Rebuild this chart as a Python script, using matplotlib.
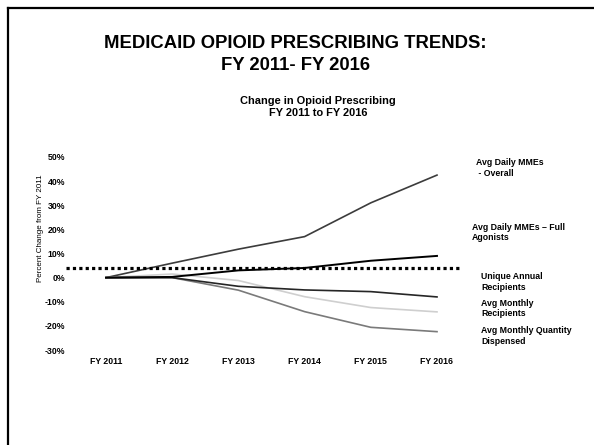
import matplotlib
matplotlib.use("Agg")
import matplotlib.pyplot as plt
from matplotlib.lines import Line2D

plt.rcParams["font.family"] = ["Liberation Sans", "DejaVu Sans"]

# =========================
# Datos
# =========================

anios = ["FY 2011", "FY 2012", "FY 2013", "FY 2014", "FY 2015", "FY 2016"]

mme_general = [0, 6.0, 11.8, 17.0, 31.0, 42.5]
mme_agonistas = [0, 0.3, 3.0, 4.0, 7.0, 9.0]
receptores_anuales = [0, 0, -3.6, -5.1, -5.8, -8.0]
receptores_mensuales = [0, 1.5, -1.2, -7.9, -12.4, -14.2]
cantidad_mensual = [0, 0, -5.2, -14.1, -20.6, -22.4]

linea_referencia = 4.0

etiquetas = [
    "Avg Daily MMEs\n - Overall",
    "Avg Daily MMEs \u2013 Full\nAgonists",
    "Unique Annual\nRecipients",
    "Avg Monthly\nRecipients",
    "Avg Monthly Quantity\nDispensed",
]

# =========================
# Figura
# =========================

W, H = 594, 445
fig = plt.figure(figsize=(W / 100, H / 100), dpi=100)
fig.patch.set_facecolor("white")

# marco de la diapositiva
fig.add_artist(Line2D([7.7 / W, 7.7 / W], [0, 1 - 7.7 / H], color="black", lw=1.6))
fig.add_artist(Line2D([7.7 / W, 1], [1 - 7.7 / H, 1 - 7.7 / H], color="black", lw=1.6))

fig.text(0.497, 1 - 43.5 / H, "MEDICAID OPIOID PRESCRIBING TRENDS:",
         ha="center", va="center", fontsize=13.3, fontweight="bold")
fig.text(0.497, 1 - 65.5 / H, "FY 2011- FY 2016",
         ha="center", va="center", fontsize=13.3, fontweight="bold")
fig.text(318 / W, 1 - 101 / H, "Change in Opioid Prescribing",
         ha="center", va="center", fontsize=7.9, fontweight="bold")
fig.text(318 / W, 1 - 112.5 / H, "FY 2011 to FY 2016",
         ha="center", va="center", fontsize=7.9, fontweight="bold")

x0 = 106
paso = 66.2
xmin, xmax = -0.55, 5.5
izq = x0 + xmin * paso
der = x0 + xmax * paso
arriba, abajo = 157, 350
ax = fig.add_axes([izq / W, (H - abajo) / H, (der - izq) / W, (abajo - arriba) / H])

x = list(range(len(anios)))
ax.plot(x, mme_general, color="#3c3c3c", lw=1.2)
ax.plot(x, receptores_mensuales, color="#cfcfcf", lw=1.2)
ax.plot(x, cantidad_mensual, color="#7a7a7a", lw=1.2)
ax.plot(x, receptores_anuales, color="#262626", lw=1.2)
ax.plot(x, mme_agonistas, color="black", lw=1.4)
ax.plot([-0.6, 5.35], [linea_referencia, linea_referencia], color="black", lw=2.3,
        dashes=(1, 1), dash_capstyle="butt", clip_on=False)

ax.set_xlim(xmin, xmax)
ax.set_ylim(-30, 50)
ax.set_yticks(range(-30, 51, 10))
ax.set_yticklabels([f"{v}%" for v in range(-30, 51, 10)], fontsize=6.3, fontweight="bold")
ax.set_xticks(x)
ax.set_xticklabels(anios, fontsize=6.3, fontweight="bold")
ax.tick_params(length=0)
ax.tick_params(axis="y", pad=3)
ax.tick_params(axis="x", pad=5)
for s in ax.spines.values():
    s.set_visible(False)

fig.text(41 / W, 1 - 228 / H, "Percent Change from FY 2011", rotation=90,
         ha="center", va="center", fontsize=5.8)

pos_etiquetas = [(476, 168), (471.5, 232.5), (481, 282), (481, 308.5), (481, 336)]
for (px, py), texto in zip(pos_etiquetas, etiquetas):
    fig.text(px / W, 1 - py / H, texto, ha="left", va="center",
             fontsize=6.3, fontweight="bold", linespacing=1.25)

plt.savefig("out.png", dpi=100)
